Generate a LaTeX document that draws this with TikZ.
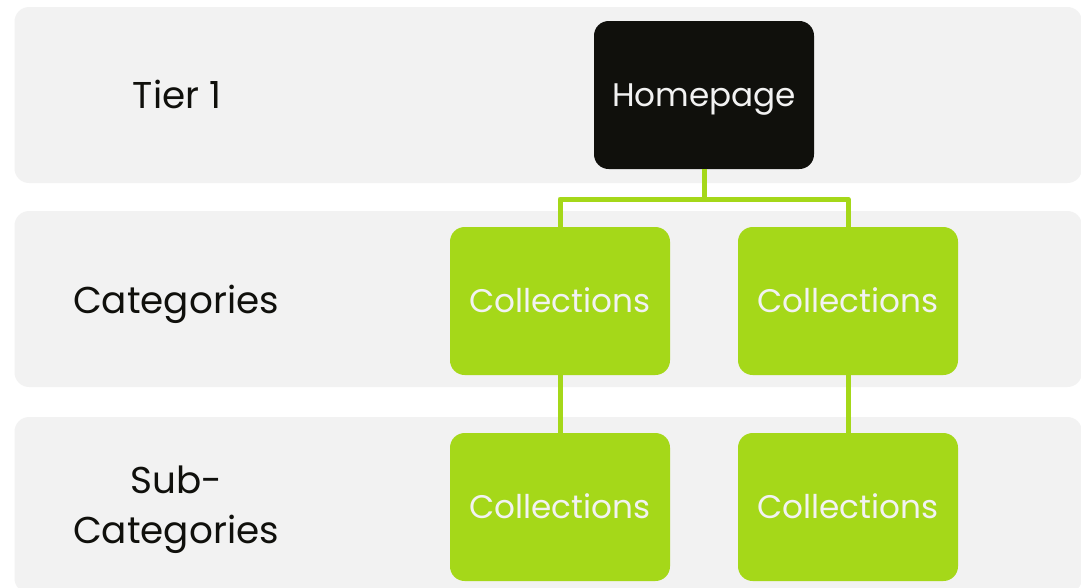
\documentclass[tikz,border=0pt]{standalone}
\usepackage{fontspec}
\setmainfont{Poppins}
\begin{document}
\definecolor{bandgray}{HTML}{F2F2F2}
\definecolor{leaf}{HTML}{A5D819}
\definecolor{ink}{HTML}{10100C}
\definecolor{paper}{HTML}{F2F2F2}
\begin{tikzpicture}[x=0.75pt,y=-0.75pt,
  band/.style={fill=bandgray,rounded corners=11pt,draw=none},
  tierlabel/.style={text=ink,font=\fontsize{28}{37.5}\selectfont,align=center,
    inner sep=0pt},
  pagebox/.style={minimum width=165pt,minimum height=111pt,rounded corners=11pt,
    inner sep=0pt,text=paper,font=\fontsize{24.5}{30}\selectfont,
    text height=17pt,text depth=0pt},
  homebox/.style={pagebox,fill=ink},
  catbox/.style={pagebox,fill=leaf},
  link/.style={draw=leaf,line width=3.75pt,line join=round}]
\useasboundingbox (0,0) rectangle (1081,587);
\fill[white] (0,0) rectangle (1081,587);

% horizontal tier bands
\path[band] (14.5,7) rectangle (1082,183);
\path[band] (14.5,211) rectangle (1082,387);
\path[band] (14.5,417) rectangle (1082,593);

% tier labels (placed on their last baseline)
\node[tierlabel,anchor=base] (lt1) at (177,108) {Tier 1};
\node[tierlabel,anchor=base] (lt2) at (176,313) {Categories};
\node[tierlabel,anchor=base] (lt3) at (176,543) {Sub-\\Categories};

% page boxes
\node[homebox] (home) at (704,95) {Homepage};
\node[catbox] (c1) at (560,301) {Collections};
\node[catbox] (c2) at (848,301) {Collections};
\node[catbox] (s1) at (560,507) {Collections};
\node[catbox] (s2) at (848,507) {Collections};

% connectors
\coordinate (fork) at (704,199);
\draw[link] (home.south) -- (fork) -| (c1.north);
\draw[link] (fork) -| (c2.north);
\draw[link] (c1.south) -- (s1.north);
\draw[link] (c2.south) -- (s2.north);
\end{tikzpicture}
\end{document}
